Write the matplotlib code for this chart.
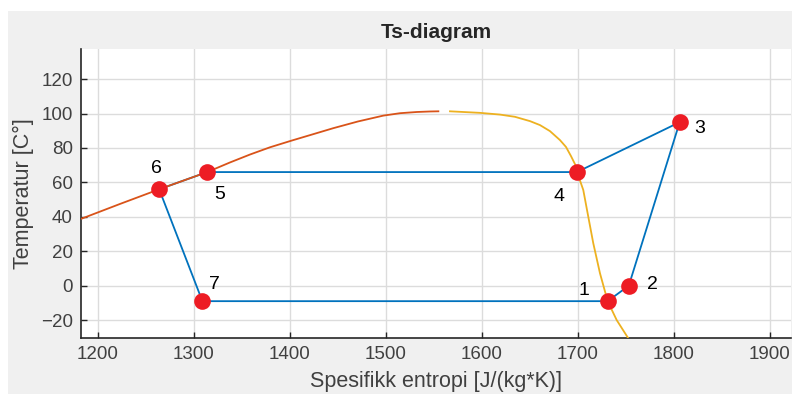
import matplotlib
matplotlib.use("Agg")
import matplotlib.pyplot as plt
from matplotlib.patches import Rectangle
import numpy as np

# Kretsprosess, punkt 1-7
punkter = ['1', '2', '3', '4', '5', '6', '7']
s_punkt = [1731, 1753, 1806, 1699, 1314, 1264, 1309]
T_punkt = [-9, 0, 95, 66, 66, 56, -9]

# Metningskurve, væskeside
s_vaeske = [1182.6, 1223.3, 1264, 1314, 1337.8, 1358.6, 1379.4, 1402, 1423.1,
            1445.3, 1471, 1497.4, 1514.8, 1532.2, 1546, 1554.7]
T_vaeske = [38.8, 47.5, 56, 66, 71.6, 76.2, 80.4, 84.3, 87.8,
            91.5, 95.4, 98.8, 100.2, 100.9, 101.2, 101.3]

# Metningskurve, dampside
s_damp = [1566.8, 1598.1, 1618.9, 1634.5, 1650.1, 1660.5, 1670.9, 1681.3, 1687.6,
          1692.8, 1697, 1699, 1702, 1705.6, 1710.8, 1716, 1723, 1731, 1740.4, 1752.5]
T_damp = [101.3, 100.4, 99.4, 98.1, 95.6, 93.3, 89.8, 84.6, 80.6,
          75.3, 70.6, 66, 61.4, 55.6, 40.1, 24.7, 7.2, -9, -20, -30.6]

# tekstforskyvning i piksler (dx, dy)
tekst_dx = [-24, 24, 20, -18, 12, -3, 12]
tekst_dy = [11, 1.5, -6, -24, -22, 21, 17]

plt.rcParams['font.family'] = ['Liberation Sans', 'DejaVu Sans']

fig = plt.figure(figsize=(7.92, 3.94), dpi=100, facecolor='white')
fig.patches.append(Rectangle((8/792, 0), 1, (394-11)/394, transform=fig.transFigure,
                             facecolor='#f0f0f0', edgecolor='none', zorder=-10))

ax = fig.add_axes([81/792, (394-338)/394, 710/792, 289/394])
ax.set_facecolor('white')

blaa = '#0072BD'
s_sl = s_punkt + [s_punkt[0]]
T_sl = T_punkt + [T_punkt[0]]
ax.plot(s_sl, T_sl, color=blaa, linewidth=1.3, zorder=2)
ax.plot(s_vaeske, T_vaeske, color='#D95319', linewidth=1.3, zorder=3)
ax.plot(s_damp, T_damp, color='#EDB120', linewidth=1.3, zorder=3)
ax.plot(s_punkt, T_punkt, 'o', color='#ED1C24', markersize=12, markeredgewidth=0, zorder=4)

for i in range(len(punkter)):
    ax.annotate(punkter[i], (s_punkt[i], T_punkt[i]),
                xytext=(tekst_dx[i]*0.72, tekst_dy[i]*0.72), textcoords='offset points',
                ha='center', va='center', fontsize=14, color='black', zorder=5)

ax.set_xlim(1182.6, 1921.9)
ax.set_ylim(-30.4, 137.5)
ax.set_xticks(np.arange(1200, 1901, 100))
ax.set_yticks(np.arange(-20, 121, 20))

ax.grid(True, color='#dcdcdc', linewidth=1.0)
ax.set_axisbelow(True)
ax.spines['top'].set_visible(False)
ax.spines['right'].set_visible(False)
for side in ['left', 'bottom']:
    ax.spines[side].set_color('#262626')
    ax.spines[side].set_linewidth(1.2)
ax.tick_params(direction='in', length=4, width=1, colors='#262626',
               labelsize=13.5, labelcolor='#404040', pad=6)

ax.set_title('Ts-diagram', fontsize=15, fontweight='bold', color='#262626', pad=8)
ax.set_xlabel('Spesifikk entropi [J/(kg*K)]', fontsize=15.5, color='#404040', labelpad=5.5)
ax.set_ylabel('Temperatur [C°]', fontsize=15.5, color='#404040', labelpad=5)

plt.savefig('out.png', dpi=100, facecolor=fig.get_facecolor())
